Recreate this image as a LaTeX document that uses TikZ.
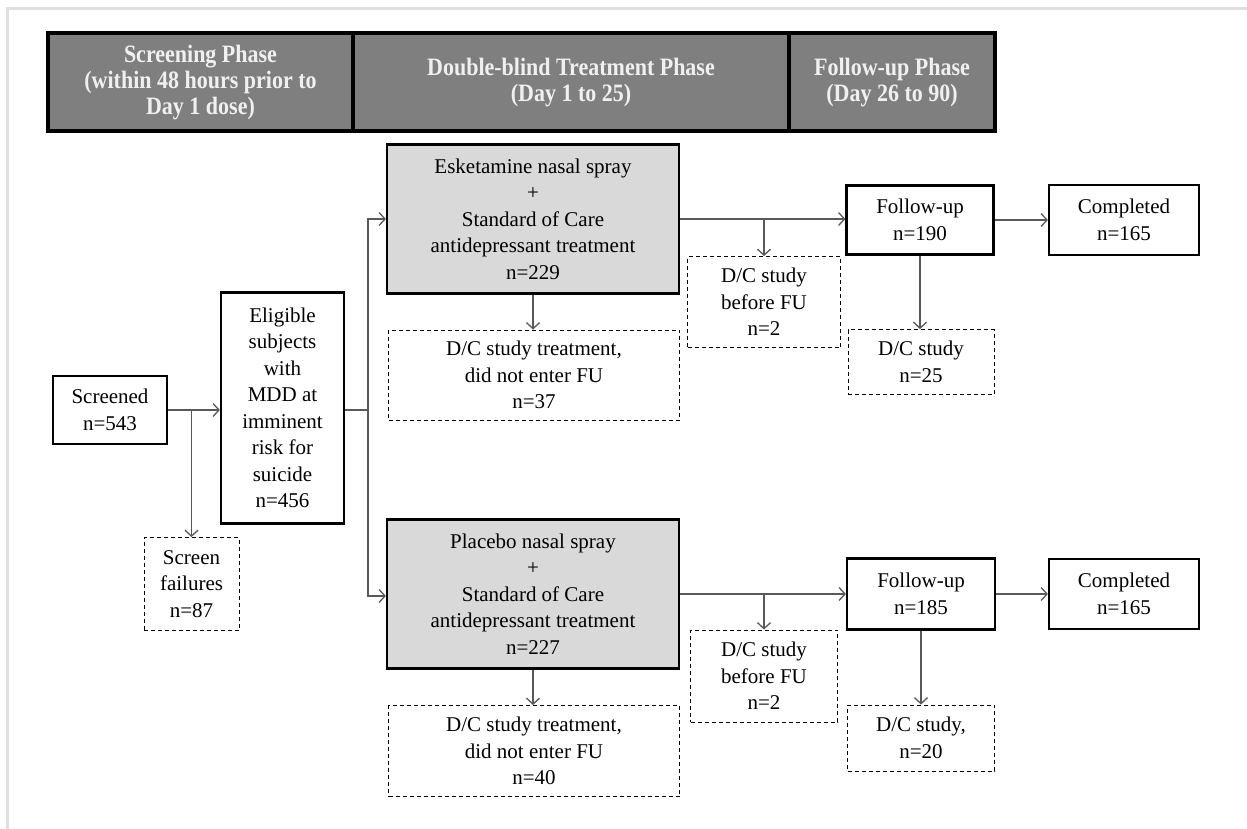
\documentclass[tikz,border=0pt]{standalone}
\usepackage{fontspec}
\setmainfont{Liberation Serif}
\newfontfamily\hdrfont[FakeStretch=0.88]{Liberation Serif}
\usetikzlibrary{shapes, arrows, arrows.meta}
\definecolor{hdrgray}{HTML}{7F7F7F}
\definecolor{armgray}{HTML}{D9D9D9}
\definecolor{linegray}{HTML}{595959}

\begin{document}
\begin{tikzpicture}[x=1pt, y=-1pt,
		every node/.style={font=\fontsize{21}{26.5}\selectfont, align=center, inner sep=0pt},
		hdr/.style={rectangle, draw=black, line width=3.5pt, fill=hdrgray, text=white!94!black, font=\hdrfont\bfseries\fontsize{25}{26}\selectfont},
		solidbox/.style={rectangle, draw, line width=2.2pt},
		armbox/.style={solidbox, fill=armgray},
		dcbox/.style={rectangle, draw, line width=0.9pt, dash pattern=on 4pt off 3pt},
		link/.style={draw=linegray, line width=1.3pt, -{Straight Barb[length=6pt, width=13pt]}}]
		\useasboundingbox (0,0) rectangle (1247,829);
		\draw[black!12, line width=3pt] (7,829) -- (7,9) -- (1247,9);
		% phase header
		\node at (200.5,82) [hdr, minimum width=305pt, minimum height=98pt] (ph1) {\strut Screening Phase\\(within 48 hours prior to\\Day 1 dose)};
		\node at (571,82) [hdr, minimum width=436pt, minimum height=98pt] (ph2) {\strut Double-blind Treatment Phase\\(Day 1 to 25)};
		\node at (892,82) [hdr, minimum width=206pt, minimum height=98pt] (ph3) {\strut Follow-up Phase\\(Day 26 to 90)};
		% screening
		\node at (110,410) [solidbox, minimum width=114pt, minimum height=68pt] (scr) {Screened\\n=543};
		\node at (282.5,408) [solidbox, minimum width=123pt, minimum height=231pt] (elig) {Eligible\\subjects\\with\\MDD at\\imminent\\risk for\\suicide\\n=456};
		\node at (191.5,584) [dcbox, minimum width=95pt, minimum height=93pt] (fail) {Screen\\failures\\n=87};
		% esketamine arm
		\node at (533,219) [armbox, minimum width=292pt, minimum height=149pt] (esk) {Esketamine nasal spray\\+\\Standard of Care\\antidepressant treatment\\n=229};
		\node at (534,375) [dcbox, minimum width=291pt, minimum height=90pt] (trt1) {D/C study treatment,\\did not enter FU\\n=37};
		\node at (764,302) [dcbox, minimum width=153pt, minimum height=91pt] (bfu1) {D/C study\\before FU\\n=2};
		\node at (920,220) [solidbox, minimum width=147pt, minimum height=69pt] (fu1) {Follow-up\\n=190};
		\node at (1124,220) [solidbox, minimum width=150pt, minimum height=70pt] (cmp1) {Completed\\n=165};
		\node at (921,362) [dcbox, minimum width=146pt, minimum height=65pt] (dcs1) {D/C study\\n=25};
		% placebo arm
		\node at (533,594) [armbox, minimum width=292pt, minimum height=149pt] (plc) {Placebo nasal spray\\+\\Standard of Care\\antidepressant treatment\\n=227};
		\node at (534,751) [dcbox, minimum width=291pt, minimum height=91pt] (trt2) {D/C study treatment,\\did not enter FU\\n=40};
		\node at (764,676) [dcbox, minimum width=147pt, minimum height=92pt] (bfu2) {D/C study\\before FU\\n=2};
		\node at (921,594) [solidbox, minimum width=148pt, minimum height=71pt] (fu2) {Follow-up\\n=185};
		\node at (1124,594) [solidbox, minimum width=150pt, minimum height=70pt] (cmp2) {Completed\\n=165};
		\node at (921,738) [dcbox, minimum width=147pt, minimum height=66pt] (dcs2) {D/C study,\\n=20};
		% connectors
		\draw[link] (scr.east) -- (elig.west |- scr.east);
		\draw[link] (fail.north |- scr.east) -- (fail.north);
		\coordinate (split) at (368,410);
		\draw[draw=linegray, line width=1.3pt] (elig.east |- split) -- (split);
		\draw[link] (split) |- (esk.west);
		\draw[link] (split) |- ([yshift=-2pt]plc.west);
		\draw[link] (esk.east) -- (fu1.west |- esk.east);
		\draw[link] (bfu1.north |- esk.east) -- (bfu1.north);
		\draw[link] (esk.south) -- (esk.south |- trt1.north);
		\draw[link] (fu1) -- (cmp1);
		\draw[link] (fu1.south) -- (fu1.south |- dcs1.north);
		\draw[link] (plc.east) -- (fu2.west |- plc.east);
		\draw[link] (bfu2.north |- plc.east) -- (bfu2.north);
		\draw[link] (plc.south) -- (plc.south |- trt2.north);
		\draw[link] (fu2) -- (cmp2);
		\draw[link] (fu2.south) -- (fu2.south |- dcs2.north);
	\end{tikzpicture}
\end{document}
